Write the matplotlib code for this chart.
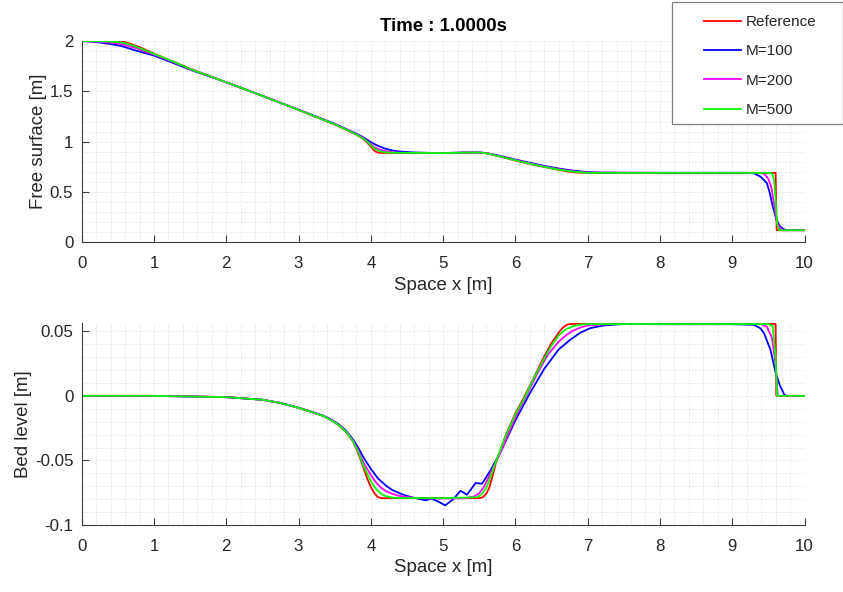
import matplotlib
matplotlib.use("Agg")
import matplotlib.pyplot as plt
from matplotlib.patches import Rectangle
from matplotlib.ticker import MultipleLocator

plt.rcParams['font.family'] = ['Liberation Sans', 'DejaVu Sans']

labels = ["Reference", "M=100", "M=200", "M=500"]
colors = ["#ff0000", "#0000ff", "#ff00ff", "#00ff00"]
title_text = "Time : 1.0000s"

# ---------------- Free surface [m] ----------------
eta_ref_x = [0, 0.5, 0.55, 0.6, 0.7, 0.8, 1.0, 1.5, 2.0, 2.5, 3.0, 3.5, 3.7, 3.8, 3.85, 3.9, 3.95, 4.0, 4.03, 4.06, 4.1, 4.15,
             4.5, 5.0, 5.3, 5.5, 5.6, 5.8, 6.0, 6.2, 6.4, 6.6, 6.75, 6.85, 7.0, 8.0, 9.0, 9.6, 9.615, 10]
eta_ref_y = [2.0, 2.0, 1.997, 1.99, 1.965, 1.94, 1.875, 1.725, 1.59, 1.455, 1.315, 1.17, 1.105, 1.068, 1.048, 1.024, 0.99, 0.952, 0.925, 0.903, 0.892, 0.888,
             0.887, 0.886, 0.89, 0.892, 0.885, 0.85, 0.812, 0.778, 0.748, 0.72, 0.70, 0.693, 0.69, 0.69, 0.69, 0.69, 0.12, 0.12]

eta_m100_x = [0, 0.1, 0.25, 0.4, 0.55, 0.75, 1.0, 1.2, 1.5, 2.0, 2.5, 3.0, 3.5, 3.7, 3.8, 3.9, 4.0, 4.1, 4.2, 4.3, 4.4,
              4.6, 4.8, 5.0, 5.3, 5.5, 5.6, 5.8, 6.0, 6.2, 6.4, 6.6, 6.8, 7.0, 7.2, 8.0, 9.2, 9.3, 9.39, 9.48,
              9.52, 9.56, 9.61, 9.66, 9.70, 9.74, 10]
eta_m100_y = [2.0, 1.995, 1.985, 1.97, 1.95, 1.905, 1.855, 1.80, 1.715, 1.59, 1.455, 1.318, 1.178, 1.112, 1.08, 1.042, 0.995, 0.958, 0.93, 0.912, 0.902,
              0.893, 0.889, 0.887, 0.893, 0.893, 0.887, 0.857, 0.822, 0.79, 0.759, 0.733, 0.712, 0.698, 0.692, 0.69, 0.69, 0.685, 0.653, 0.588,
              0.49, 0.358, 0.227, 0.16, 0.135, 0.122, 0.12]

eta_m200_x = [0, 0.2, 0.4, 0.55, 0.75, 1.0, 1.2, 1.5, 2.0, 2.5, 3.0, 3.5, 3.7, 3.8, 3.9, 3.95, 4.0, 4.05, 4.1, 4.2, 4.3, 4.4, 4.6,
              5.0, 5.3, 5.5, 5.6, 5.8, 6.0, 6.2, 6.4, 6.6, 6.8, 7.0, 8.0, 9.0, 9.4, 9.45, 9.5, 9.54, 9.58, 9.62,
              9.66, 9.7, 10]
eta_m200_y = [2.0, 1.995, 1.985, 1.97, 1.93, 1.865, 1.81, 1.72, 1.59, 1.455, 1.316, 1.174, 1.108, 1.074, 1.034, 1.005, 0.972, 0.945, 0.926, 0.906, 0.895, 0.89, 0.888,
              0.886, 0.891, 0.892, 0.886, 0.853, 0.817, 0.784, 0.753, 0.726, 0.705, 0.693, 0.69, 0.69, 0.69, 0.675, 0.63, 0.55, 0.38, 0.2,
              0.14, 0.12, 0.12]

eta_m500_x = [0, 0.3, 0.5, 0.6, 0.75, 1.0, 1.2, 1.5, 2.0, 2.5, 3.0, 3.5, 3.7, 3.8, 3.9, 3.95, 4.0, 4.05, 4.1, 4.15, 4.2, 4.3, 4.6,
              5.0, 5.3, 5.5, 5.6, 5.8, 6.0, 6.2, 6.4, 6.6, 6.8, 7.0, 8.0, 9.0, 9.5, 9.55, 9.58, 9.6, 9.62, 9.65, 10]
eta_m500_y = [2.0, 1.997, 1.99, 1.978, 1.945, 1.872, 1.815, 1.722, 1.59, 1.455, 1.315, 1.172, 1.107, 1.071, 1.03, 1.0, 0.963, 0.932, 0.912, 0.9, 0.894, 0.89, 0.888,
              0.886, 0.891, 0.892, 0.885, 0.851, 0.814, 0.78, 0.75, 0.722, 0.702, 0.69, 0.69, 0.69, 0.69, 0.685, 0.62, 0.42, 0.18, 0.12, 0.12]

# ---------------- Bed level [m] ----------------
bed_ref_x = [0, 1.0, 1.5, 2.0, 2.5, 2.75, 3.0, 3.2, 3.35, 3.45, 3.55, 3.65, 3.75, 3.8, 3.85, 3.9, 3.95, 4.0, 4.05, 4.1, 4.15, 5.0, 5.5,
             5.55, 5.6, 5.64, 5.68, 5.73, 5.8, 5.87, 6.0, 6.13, 6.25, 6.39, 6.5, 6.6, 6.65, 6.7, 6.75, 6.8, 7.0, 8.0, 9.0,
             9.6, 9.61, 10]
bed_ref_y = [0, 0, -0.0003, -0.001, -0.003, -0.0055, -0.0093, -0.0128, -0.0158, -0.0188, -0.0225, -0.0275, -0.035, -0.041, -0.048, -0.056, -0.064, -0.0705, -0.0755, -0.0785, -0.0792, -0.0792, -0.0792,
             -0.0785, -0.0755, -0.071, -0.063, -0.052, -0.041, -0.030, -0.0135, 0.0, 0.0135, 0.0295, 0.041, 0.049, 0.0525, 0.0547, 0.0556, 0.0557, 0.0557, 0.0557, 0.0557,
             0.0557, 0.0, 0.0]

bed_m100_x = [0, 1.0, 2.0, 2.5, 2.75, 3.0, 3.2, 3.35, 3.45, 3.55, 3.65, 3.75, 3.82, 3.905, 4.0, 4.1, 4.22, 4.3, 4.41, 4.5, 4.6, 4.76, 4.83, 4.92, 5.03, 5.15,
              5.24, 5.33, 5.45, 5.54, 5.66, 5.8, 6.0, 6.2, 6.4, 6.6, 6.76, 6.9, 7.04, 7.22, 7.5, 8.0, 9.0, 9.3, 9.39,
              9.44, 9.53, 9.6, 9.66, 9.72, 9.75, 10]
bed_m100_y = [0, 0, -0.001, -0.003, -0.0055, -0.0092, -0.0126, -0.0155, -0.0183, -0.0218, -0.0265, -0.0335, -0.0395, -0.0482, -0.0565, -0.064, -0.070, -0.073, -0.0757, -0.0775, -0.079, -0.0809, -0.0795, -0.0815, -0.0848, -0.0795,
              -0.0735, -0.0765, -0.0675, -0.068, -0.0572, -0.043, -0.019, 0.002, 0.021, 0.036, 0.0435, 0.049, 0.0525, 0.0545, 0.0557, 0.0555, 0.0555, 0.055, 0.0523,
              0.0485, 0.0356, 0.018, 0.008, 0.001, 0.0, 0.0]

bed_m200_x = [0, 1.0, 2.0, 2.5, 2.75, 3.0, 3.2, 3.35, 3.45, 3.55, 3.65, 3.75, 3.82, 3.905, 4.0, 4.07, 4.14, 4.2, 4.28, 4.36, 4.46, 4.65, 5.0, 5.3, 5.43,
              5.5, 5.57, 5.66, 5.8, 6.0, 6.15, 6.3, 6.45, 6.6, 6.7, 6.8, 6.9, 7.0, 7.2, 7.4, 8.0, 9.0, 9.4, 9.48, 9.55, 9.6, 9.63, 10]
bed_m200_y = [0, 0, -0.001, -0.003, -0.0055, -0.0093, -0.0127, -0.0157, -0.0186, -0.0222, -0.0271, -0.0345, -0.0415, -0.0526, -0.0612, -0.067, -0.071, -0.0735, -0.0755, -0.077, -0.0781, -0.0793, -0.0795, -0.0793, -0.0778,
              -0.0755, -0.070, -0.0595, -0.043, -0.0165, 0.0, 0.017, 0.032, 0.042, 0.047, 0.0505, 0.053, 0.0545, 0.0553, 0.0556, 0.0556, 0.0556, 0.0556, 0.0535, 0.045, 0.025, 0.0, 0.0]

bed_m500_x = [0, 1.0, 2.0, 2.5, 2.75, 3.0, 3.2, 3.35, 3.45, 3.55, 3.65, 3.75, 3.82, 3.905, 4.0, 4.05, 4.1, 4.16, 4.22, 4.3, 4.4, 5.0, 5.47,
              5.53, 5.6, 5.66, 5.75, 5.85, 6.0, 6.14, 6.25, 6.4, 6.5, 6.6, 6.7, 6.8, 6.9, 7.0, 8.0, 9.0, 9.5, 9.56, 9.6, 9.62, 10]
bed_m500_y = [0, 0, -0.001, -0.003, -0.0055, -0.0093, -0.0128, -0.0158, -0.0188, -0.0224, -0.0273, -0.0348, -0.0425, -0.055, -0.0661, -0.0705, -0.0738, -0.0765, -0.0778, -0.0788, -0.0791, -0.0792, -0.0785,
              -0.0765, -0.071, -0.062, -0.048, -0.033, -0.0145, 0.0, 0.013, 0.029, 0.039, 0.047, 0.0515, 0.054, 0.0551, 0.0556, 0.0556, 0.0556, 0.0556, 0.054, 0.03, 0.0, 0.0]

eta_series = [(eta_ref_x, eta_ref_y), (eta_m100_x, eta_m100_y), (eta_m200_x, eta_m200_y), (eta_m500_x, eta_m500_y)]
bed_series = [(bed_ref_x, bed_ref_y), (bed_m100_x, bed_m100_y), (bed_m200_x, bed_m200_y), (bed_m500_x, bed_m500_y)]

W, H = 843, 592
fig = plt.figure(figsize=(W / 100, H / 100), dpi=100)
fig.patch.set_facecolor('white')

ax_left = 81.7 / W
ax_w = (804.5 - 81.7) / W
ax1 = fig.add_axes([ax_left, 1 - 242.3 / H, ax_w, (242.3 - 41) / H])
ax2 = fig.add_axes([ax_left, 1 - 525 / H, ax_w, (525 - 323.3) / H])

text_col = '#262626'
axis_col = '#404040'


def style(ax, ymajor, yminor):
    for s in ['top', 'right']:
        ax.spines[s].set_visible(False)
    for s in ['left', 'bottom']:
        ax.spines[s].set_color(axis_col)
        ax.spines[s].set_linewidth(0.8)
    ax.set_xlim(0, 10)
    ax.xaxis.set_major_locator(MultipleLocator(1))
    ax.xaxis.set_minor_locator(MultipleLocator(0.2))
    ax.yaxis.set_major_locator(MultipleLocator(ymajor))
    ax.yaxis.set_minor_locator(MultipleLocator(yminor))
    ax.tick_params(which='major', direction='in', length=5, width=0.8, color=axis_col,
                   labelsize=12.2, labelcolor=text_col, pad=6)
    ax.tick_params(which='minor', length=0)
    ax.tick_params(axis='x', which='major', pad=10)
    ax.grid(True, which='both', color='#d9d9d9', linestyle=(0, (1, 1.5)), linewidth=0.6)
    ax.set_axisbelow(True)


style(ax1, 0.5, 0.1)
style(ax2, 0.05, 0.01)
ax1.set_ylim(0, 2)
ax2.set_ylim(-0.1, 0.0562)
ax2.set_yticks([-0.1, -0.05, 0, 0.05])
ax2.set_yticklabels(['-0.1', '-0.05', '0', '0.05'])
ax1.set_yticks([0, 0.5, 1, 1.5, 2])
ax1.set_yticklabels(['0', '0.5', '1', '1.5', '2'])

lines = []
for (x, y), c, lab in zip(eta_series, colors, labels):
    ln, = ax1.plot(x, y, color=c, lw=1.3, label=lab)
    lines.append(ln)
for (x, y), c in zip(bed_series, colors):
    ax2.plot(x, y, color=c, lw=1.3)

ax1.set_title(title_text, fontsize=13.4, fontweight='bold', color='black', pad=7)
for ax, yl, xc in [(ax1, 'Free surface [m]', -0.048), (ax2, 'Bed level [m]', -0.069)]:
    ax.set_xlabel('Space x [m]', fontsize=13.4, color=text_col)
    ax.set_ylabel(yl, fontsize=13.4, color=text_col)
    ax.xaxis.set_label_coords(0.5, -0.17)
    ax.yaxis.set_label_coords(xc, 0.5)

# legend box
fig.patches.append(Rectangle((671.5 / W, 1 - 124 / H), (842.5 - 671.5) / W, (124 - 1.5) / H,
                             transform=fig.transFigure, facecolor='white', edgecolor='#7f7f7f',
                             linewidth=0.9, zorder=3))
leg = fig.legend(handles=lines, labels=labels, loc='upper left',
                 bbox_to_anchor=(704 / W, 1 - 15 / H), frameon=False, fontsize=11.1,
                 handlelength=2.4, handletextpad=0.28, labelspacing=1.0, borderpad=0,
                 borderaxespad=0)
leg.set_zorder(4)
for t in leg.get_texts():
    t.set_color(text_col)

fig.savefig('out.png', dpi=100, facecolor='white')
